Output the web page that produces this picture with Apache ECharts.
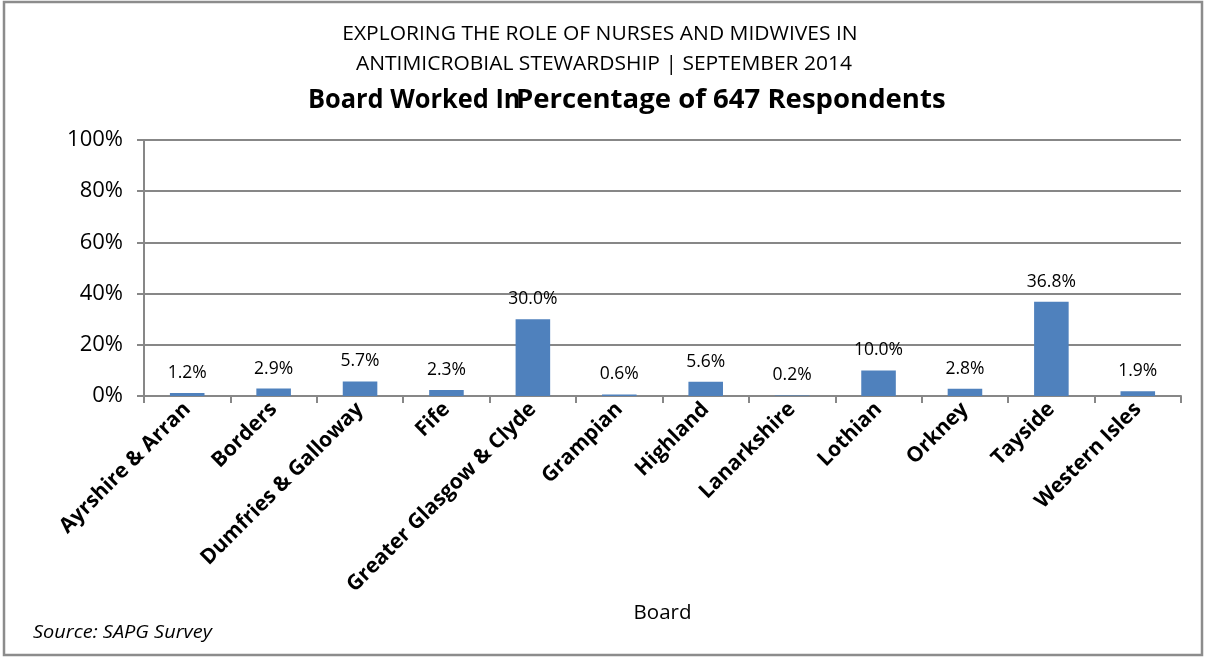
<!DOCTYPE html>
<html>
<head>
<meta charset="utf-8">
<script src="https://cdn.jsdelivr.net/npm/echarts@6/dist/echarts.min.js"></script>
<style>
  html, body { margin: 0; padding: 0; background: #fff; }
  #main { width: 1205px; height: 657px; }
</style>
</head>
<body>
<div id="main"></div>
<script>
var boards = ['Ayrshire & Arran', 'Borders', 'Dumfries & Galloway', 'Fife', 'Greater Glasgow & Clyde',
              'Grampian', 'Highland', 'Lanarkshire', 'Lothian', 'Orkney', 'Tayside', 'Western Isles'];
var percents = [1.2, 2.9, 5.7, 2.3, 30.0, 0.6, 5.6, 0.2, 10.0, 2.8, 36.8, 1.9];
var yTicks = [0, 20, 40, 60, 80, 100];

var font = '"Open Sans", Lato, sans-serif';
var gray = '#878787';

// text drawn as graphic so it can be stretched a little like the source
function label(txt, x, y, size, opts) {
    opts = opts || {};
    return {
        type: 'text',
        x: x,
        y: y,
        scaleX: opts.scaleX || 1,
        style: {
            text: txt,
            fill: '#000',
            fontFamily: font,
            fontSize: size,
            fontWeight: opts.bold ? 'bold' : 'normal',
            fontStyle: opts.italic ? 'italic' : 'normal',
            align: opts.align || 'left',
            verticalAlign: 'middle'
        }
    };
}

var myChart = echarts.init(document.getElementById('main'));

var option = {
    animation: false,
    graphic: [
        {
            type: 'rect',
            shape: { x: 4, y: 2, width: 1198, height: 653 },
            style: { fill: 'none', stroke: '#8c8c8c', lineWidth: 2.5 }
        },
        label('EXPLORING THE ROLE OF NURSES AND MIDWIVES IN', 600, 34, 20, { align: 'center', scaleX: 1.05 }),
        label('ANTIMICROBIAL STEWARDSHIP | SEPTEMBER 2014', 604, 64, 20, { align: 'center', scaleX: 1.05 }),
        // the two halves overlap in the source
        label('Board Worked In', 308, 100, 27, { bold: true, scaleX: 0.94 }),
        label('Percentage of 647 Respondents', 516, 100, 27, { bold: true, scaleX: 1.02 }),
        label('Source: SAPG Survey', 33, 633, 19, { italic: true, scaleX: 1.05 })
    ],
    grid: { left: 144, right: 24, top: 140, bottom: 261 },
    xAxis: {
        type: 'category',
        data: boards,
        name: 'Board',
        nameLocation: 'middle',
        nameGap: 207,
        nameTextStyle: { fontFamily: font, fontSize: 20.5, color: '#000' },
        axisLine: { lineStyle: { color: gray, width: 2 } },
        axisTick: { show: true, length: 7, alignWithLabel: false, lineStyle: { color: gray, width: 2 } },
        axisLabel: {
            rotate: 45,
            interval: 0,
            margin: 10,
            fontFamily: font,
            fontSize: 21,
            fontWeight: 'bold',
            color: '#000'
        }
    },
    yAxis: {
        type: 'value',
        min: yTicks[0],
        max: yTicks[yTicks.length - 1],
        interval: 20,
        axisLine: { show: true, lineStyle: { color: gray, width: 2 } },
        axisTick: { show: true, length: 7, lineStyle: { color: gray, width: 2 } },
        splitLine: { lineStyle: { color: gray, width: 2 } },
        axisLabel: {
            formatter: '{value}%',
            margin: 21,
            fontFamily: font,
            fontSize: 22,
            color: '#000'
        }
    },
    series: [
        {
            type: 'bar',
            data: percents,
            barWidth: '40%',
            itemStyle: { color: '#4F81BD' },
            label: {
                show: true,
                position: 'top',
                distance: 11,
                formatter: function (p) { return p.value.toFixed(1) + '%'; },
                fontFamily: font,
                fontSize: 17.5,
                color: '#000'
            }
        }
    ]
};

myChart.setOption(option);
</script>
</body>
</html>
